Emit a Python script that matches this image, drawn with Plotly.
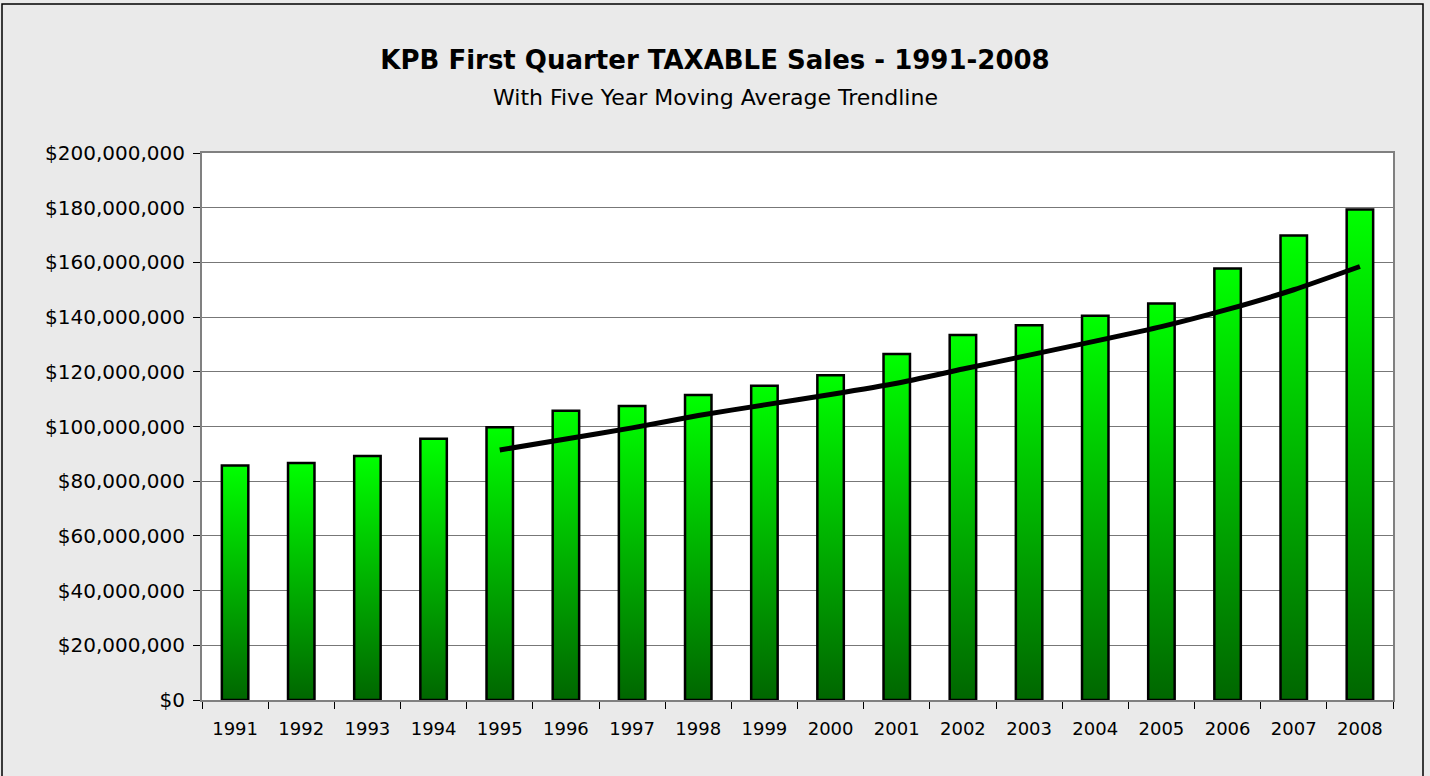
"""
KPB first quarter taxable sales with a five year moving average trendline
"""
import plotly.graph_objects as go

# Data (dollars)
years = [1991, 1992, 1993, 1994, 1995, 1996, 1997, 1998, 1999,
         2000, 2001, 2002, 2003, 2004, 2005, 2006, 2007, 2008]
sales = [85700000, 86700000, 89200000, 95500000, 99700000, 105800000,
         107500000, 111500000, 114900000, 118700000, 126500000, 133500000,
         137000000, 140500000, 145000000, 157800000, 169800000, 179300000]

# Five year moving average trendline
trend_years = [1995, 1996, 1997, 1998, 1999, 2000, 2001,
               2002, 2003, 2004, 2005, 2006, 2007, 2008]
trend = [91400000, 95400000, 99500000, 104000000, 107900000, 111700000,
         115800000, 121000000, 126100000, 131200000, 136500000, 142800000,
         150000000, 158500000]

y_ticks = [0, 20000000, 40000000, 60000000, 80000000, 100000000,
           120000000, 140000000, 160000000, 180000000, 200000000]

W, H = 1430, 776
L, R, T, B = 202, 37, 153, 76
half = 0.2  # half bar width in year units

fig = go.Figure()

# Bars with a vertical green gradient, one polygon per year
for yr, val in zip(years, sales):
    fig.add_trace(go.Scatter(
        x=[yr - half, yr - half, yr + half, yr + half, yr - half],
        y=[0, val, val, 0, 0],
        mode='lines',
        fill='toself',
        fillgradient=dict(type='vertical',
                          colorscale=[[0, '#006600'], [1, '#00FF00']]),
        line=dict(color='black', width=2.5),
        hoverinfo='skip',
        showlegend=False))

fig.add_trace(go.Scatter(
    x=trend_years, y=trend,
    mode='lines',
    line=dict(color='black', width=5, shape='spline', smoothing=0.6),
    showlegend=False))

# Outer frame around the whole chart (pixel -> paper coords)
pw, ph = W - L - R, H - T - B
bottom = H - B
fig.add_shape(type='rect', xref='paper', yref='paper',
              x0=(2 - L) / pw, x1=(1423 - L) / pw,
              y0=(bottom - 779) / ph, y1=(bottom - 4) / ph,
              line=dict(color='black', width=1.5), layer='below')

fig.add_annotation(text='With Five Year Moving Average Trendline',
                   xref='paper', yref='paper',
                   x=(715 - L) / pw, y=(bottom - 97) / ph,
                   showarrow=False, xanchor='center', yanchor='middle',
                   font=dict(size=22, color='black'))

fig.update_layout(
    width=W, height=H,
    margin=dict(l=L, r=R, t=T, b=B),
    paper_bgcolor='#EAEAEA',
    plot_bgcolor='white',
    font=dict(family='DejaVu Sans, Arial, sans-serif', color='black', size=20),
    title=dict(text='<b>KPB First Quarter TAXABLE Sales - 1991-2008</b>',
               x=0.5, xanchor='center', y=1 - 60 / H, yanchor='middle',
               font=dict(size=26, color='black')),
)

fig.update_xaxes(
    range=[1990.5, 2008.5],
    tickvals=years, ticktext=[str(y) for y in years],
    tickfont=dict(size=18),
    ticks='', showgrid=False, zeroline=False,
    showline=True, linecolor='#808080', linewidth=2, mirror=True,
    minor=dict(tick0=1990.5, dtick=1, ticks='outside', ticklen=7,
               tickcolor='black', showgrid=False),
    ticklabelstandoff=11,
)
fig.update_yaxes(
    range=[0, 200000000],
    tickvals=y_ticks, tickformat='$,.0f',
    tickfont=dict(size=20),
    ticks='outside', ticklen=7, tickcolor='black',
    showgrid=True, gridcolor='#777777', gridwidth=1,
    zeroline=False,
    showline=True, linecolor='#808080', linewidth=2, mirror=True,
    ticklabelstandoff=4,
)

# drop the default page margin so the chart sits at the window's top-left
fig.write_html("out.html", config={'displayModeBar': False},
               post_script="document.body.style.margin='0';")
